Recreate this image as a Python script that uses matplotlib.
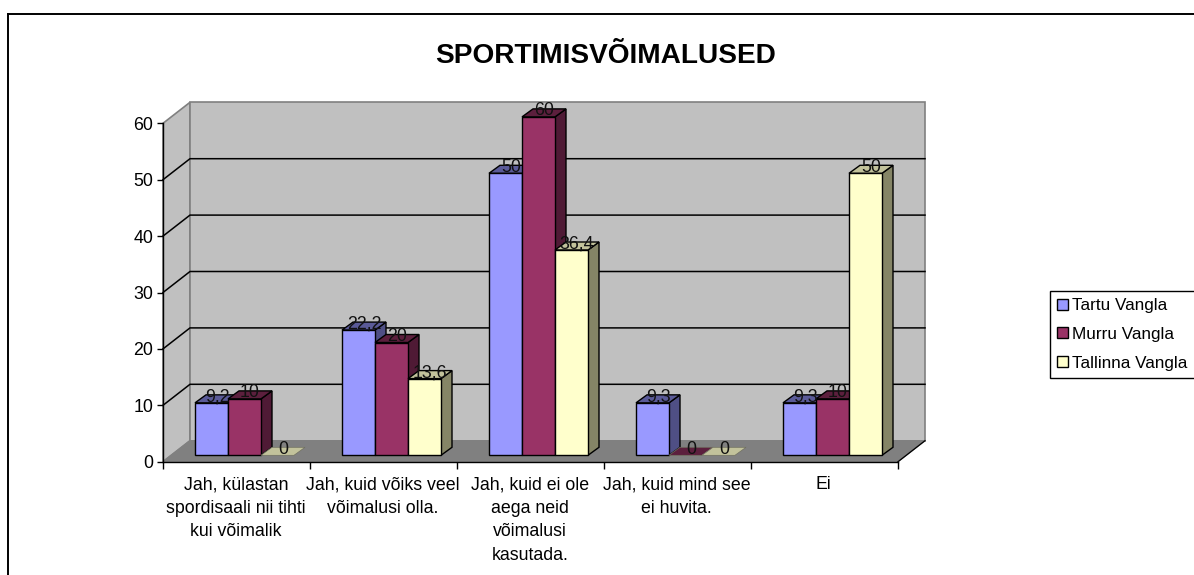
import matplotlib
matplotlib.use('Agg')
import matplotlib.pyplot as plt
from matplotlib.lines import Line2D
import numpy as np

plt.rcParams['font.family'] = ['Liberation Sans', 'DejaVu Sans']

# Data
categories = ['Jah, külastan\nspordisaali nii tihti\nkui võimalik',
              'Jah, kuid võiks veel\nvõimalusi olla.',
              'Jah, kuid ei ole\naega neid\nvõimalusi\nkasutada.',
              'Jah, kuid mind see\nei huvita.',
              'Ei']
series_names = ['Tartu Vangla', 'Murru Vangla', 'Tallinna Vangla']
tartu = [9.3, 22.2, 50, 9.3, 9.3]
murru = [10, 20, 60, 0, 10]
tallinn = [0, 13.6, 36.4, 0, 50]
tartu_labels = ['9,2', '22,2', '50', '9,3', '9,3']
murru_labels = ['10', '20', '60', '0', '10']
tallinn_labels = ['0', '13,6', '36,4', '0', '50']
y_ticks = [0, 10, 20, 30, 40, 50, 60]

face_colors = ['#9999FF', '#993366', '#FFFFCC']
top_colors = ['#5A5A98', '#5C1F3D', '#C2C29B']
side_colors = ['#4F4F85', '#4F1A35', '#858566']

W, H = 1194, 575
fs = 12.8
fig = plt.figure(figsize=(W / 100, H / 100), dpi=100, facecolor='white')
ax = fig.add_axes([163 / W, 1 - 461.7 / H, 735 / W, 338.4 / H])
ax.set_xlim(0, 5)
ax.set_ylim(0, 60)
ax.patch.set_visible(False)

# pixel sizes turned into data units
px_x = 5 / 735
px_y = 60 / 338.4
wall_dx = 27 * px_x
wall_dy = 21 * px_y
bar_w = 33 * px_x
bar_gap = 32 * px_x
base_dy = 6.4 * px_y
depth_x = 11 * px_x
depth_y = 8 * px_y

# walls and floor
ax.fill([0, wall_dx, wall_dx, 0], [0, wall_dy, 60 + wall_dy, 60], facecolor='#C0C0C0',
        edgecolor='#808080', lw=1.2, clip_on=False, zorder=1)
ax.fill([wall_dx, 5 + wall_dx, 5 + wall_dx, wall_dx],
        [wall_dy, wall_dy, 60 + wall_dy, 60 + wall_dy], facecolor='#C0C0C0',
        edgecolor='#808080', lw=1.2, clip_on=False, zorder=1)
ax.fill([0, 5, 5 + wall_dx, wall_dx], [0, 0, wall_dy, wall_dy], facecolor='#808080',
        edgecolor='#808080', lw=1, clip_on=False, zorder=1.5)
ax.plot([5, 5 + wall_dx], [0, wall_dy], color='black', lw=0.9, clip_on=False, zorder=1.6)
for v in y_ticks[1:-1]:
    ax.plot([0, wall_dx, 5 + wall_dx], [v, v + wall_dy, v + wall_dy], color='black',
            lw=1.1, clip_on=False, zorder=1.2)

# bars
x_idx = np.arange(len(categories))
all_series = [tartu, murru, tallinn]
all_labels = [tartu_labels, murru_labels, tallinn_labels]
for i in x_idx:
    for s, vals in enumerate(all_series):
        v = vals[i]
        left = i + bar_gap + s * bar_w
        right = left + bar_w
        top = base_dy + v
        z = 3 + i + s * 0.1
        if v > 0:
            ax.fill([right, right + depth_x, right + depth_x, right],
                    [base_dy, base_dy + depth_y, top + depth_y, top],
                    facecolor=side_colors[s], edgecolor='black', lw=1, clip_on=False, zorder=z)
        ax.fill([left, right, right + depth_x, left + depth_x],
                [top, top, top + depth_y, top + depth_y],
                facecolor=top_colors[s], edgecolor='black' if v > 0 else '#707060', lw=1 if v > 0 else 0.5,
                clip_on=False, zorder=z)
        if v > 0:
            ax.bar(left, v, width=bar_w, bottom=base_dy, align='edge', color=face_colors[s],
                   edgecolor='black', lw=1, clip_on=False, zorder=z + 0.01)
        ax.text(left + bar_w / 2 + depth_x / 2, top + depth_y / 2 + 2 * px_y, all_labels[s][i],
                ha='center', va='center', fontsize=fs, color='#111111', zorder=20, clip_on=False)

# axes
for name in ['top', 'right']:
    ax.spines[name].set_visible(False)
for name in ['left', 'bottom']:
    ax.spines[name].set_linewidth(1)
    ax.spines[name].set_zorder(2)
ax.set_yticks(y_ticks)
ax.set_xticks(np.arange(0, 6))
ax.set_xticklabels([])
ax.tick_params(axis='y', length=4, width=1, pad=3, labelsize=fs)
ax.tick_params(axis='x', length=5, width=1)
for i, cat in enumerate(categories):
    ax.annotate(cat, xy=(i + 0.5, 0), xycoords='data', xytext=(-0.5, -10.5), textcoords='offset points',
                ha='center', va='top', fontsize=fs, linespacing=1.5, annotation_clip=False)

# title
fig.text(605.5 / W, 1 - 56 / H, 'SPORTIMISVÕIMALUSED', ha='center', va='center',
         fontsize=20.2, fontweight='bold')

# legend
legend_handles = [plt.Rectangle((0, 0), 1, 1, facecolor=c, edgecolor='black', lw=1) for c in face_colors]
leg = fig.legend(legend_handles, series_names, loc='upper left',
                 bbox_to_anchor=(1050 / W, 1 - 291 / H), bbox_transform=fig.transFigure,
                 fontsize=12.3, handlelength=0.62, handleheight=0.62, handletextpad=0.25,
                 labelspacing=0.8, borderpad=0.42, borderaxespad=0, fancybox=False,
                 framealpha=1, edgecolor='black')
leg.get_frame().set_linewidth(1)

# outer chart border, runs off the picture
fig.add_artist(Line2D([7.5 / W, 7.5 / W], [0, 1 - 13.5 / H], color='black', lw=1.4))
fig.add_artist(Line2D([7.5 / W, 1], [1 - 13.5 / H, 1 - 13.5 / H], color='black', lw=1.4))

fig.savefig('out.png', dpi=100)
